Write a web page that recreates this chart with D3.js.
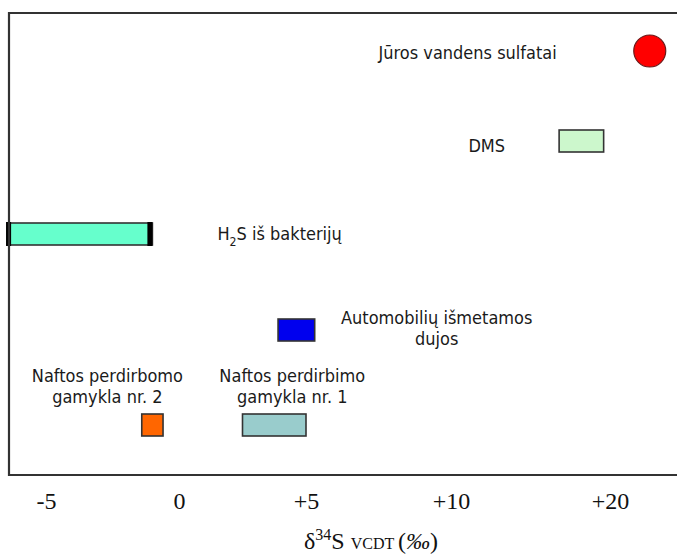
<!DOCTYPE html>
<html>
<head>
<meta charset="utf-8">
<script src="https://cdn.jsdelivr.net/npm/d3@7"></script>
<style>
  body { margin: 0; background: #fff; }
</style>
</head>
<body>
<svg id="chart" width="677" height="555"></svg>
<script>
// tick values on the (non-uniform) delta34S axis
const tickValues = [-5, 0, 5, 10, 20];
const tickLabels = ["-5", "0", "+5", "+10", "+20"];

// sources, one row each (the two refineries share the bottom row)
const sources = ["Jūros vandens sulfatai", "DMS", "H2S iš bakterijų", "Automobilių išmetamos dujos",
                 "Naftos perdirbomo gamykla nr. 2", "Naftos perdirbimo gamykla nr. 1"];
const rows = [0, 1, 2, 3, 4, 4];
const lowValues = [22.5, 16.8, -6.5, 3.9, -1.4, 2.5];
const highValues = [22.5, 19.6, -1.0, 5.3, -0.6, 5.0];

// styles
const fills = ["#ff0000", "#ccf7cc", "#66ffcc", "#0000ee", "#ff6600", "#99cccc"];
const labelLines = [
  ["Jūros vandens sulfatai"],
  ["DMS"],
  ["H2S iš bakterijų"],
  ["Automobilių išmetamos", "dujos"],
  ["Naftos perdirbomo", "gamykla nr. 2"],
  ["Naftos perdirbimo", "gamykla nr. 1"]
];
// label placement relative to the mark: which edge, text anchor, offset of first line
const labelPlace = [
  { side: "left", anchor: "end", dx: -93, dy: 8 },
  { side: "left", anchor: "end", dx: -54, dy: 11 },
  { side: "right", anchor: "start", dx: 65, dy: 6 },
  { side: "right", anchor: "middle", dx: 122, dy: -6 },
  { side: "mid", anchor: "middle", dx: -45, dy: -43 },
  { side: "mid", anchor: "middle", dx: 18, dy: -43 }
];

const svg = d3.select("#chart");
const frame = { left: 9, top: 13, bottom: 475, right: 677 };
const sansFont = "'DejaVu Sans', Verdana, sans-serif";
const serifFont = "'Liberation Serif', 'Times New Roman', serif";

const x = d3.scaleLinear()
  .domain(tickValues)
  .range([46, 179, 306, 451, 610]);

const y = d3.scaleLinear()
  .domain(d3.range(5))
  .range([51, 141, 234, 330, 425]);

const barH = 22;
const data = sources.map((s, i) => ({
  name: s, row: rows[i], lo: lowValues[i], hi: highValues[i], fill: fills[i],
  lines: labelLines[i], place: labelPlace[i]
}));

svg.append("clipPath").attr("id", "plotclip")
  .append("rect")
  .attr("x", frame.left - 3).attr("y", frame.top)
  .attr("width", frame.right - frame.left + 3).attr("height", frame.bottom - frame.top);

const g = svg.append("g").attr("clip-path", "url(#plotclip)");

// range bars
g.selectAll("rect.bar")
  .data(data.filter(d => d.lo !== d.hi))
  .enter()
  .append("rect")
  .attr("class", "bar")
  .attr("x", d => x(d.lo))
  .attr("y", d => y(d.row) - barH / 2)
  .attr("width", d => x(d.hi) - x(d.lo))
  .attr("height", barH)
  .attr("fill", d => d.fill)
  .attr("stroke", "#333")
  .attr("stroke-width", 1.6);

// thick black end caps on the bacterial H2S range
const h2s = data[2];
g.selectAll("rect.cap")
  .data([h2s.lo, h2s.hi])
  .enter()
  .append("rect")
  .attr("class", "cap")
  .attr("x", (v, i) => i === 0 ? x(v) : x(v) - 5)
  .attr("y", y(h2s.row) - barH / 2 - 1)
  .attr("width", 5)
  .attr("height", barH + 2)
  .attr("fill", "#000");

// single-value points
g.selectAll("circle.pt")
  .data(data.filter(d => d.lo === d.hi))
  .enter()
  .append("circle")
  .attr("class", "pt")
  .attr("cx", d => x(d.lo))
  .attr("cy", d => y(d.row))
  .attr("r", 16)
  .attr("fill", d => d.fill)
  .attr("stroke", "#6b1a1a")
  .attr("stroke-width", 1.2);

// labels (glyphs in the original are a little taller than DejaVu)
const labels = svg.append("g")
  .selectAll("text.lbl")
  .data(data)
  .enter()
  .append("text")
  .attr("class", "lbl")
  .style("font-family", sansFont)
  .attr("font-size", 16.2)
  .attr("fill", "#1a1a1a")
  .attr("text-anchor", d => d.place.anchor)
  .attr("transform", d => {
    const ref = d.place.side === "left" ? x(d.lo) : d.place.side === "right" ? x(d.hi) : (x(d.lo) + x(d.hi)) / 2;
    return `translate(${ref + d.place.dx},${y(d.row) + d.place.dy}) scale(1,1.12)`;
  });

labels.each(function(d) {
  const t = d3.select(this);
  d.lines.forEach((line, k) => {
    const ts = t.append("tspan").attr("x", 0).attr("dy", k === 0 ? 0 : 18.5);
    if (line.startsWith("H2S")) {
      ts.text("H");
      t.append("tspan").attr("dy", 5).attr("font-size", 11).text("2");
      t.append("tspan").attr("dy", -5).text("S" + line.slice(3));
    } else {
      ts.text(line);
    }
  });
});

// frame: left, top, bottom (open at the right)
svg.append("path")
  .attr("d", `M${frame.right},${frame.top}H${frame.left}V${frame.bottom}H${frame.right}`)
  .attr("fill", "none")
  .attr("stroke", "#333")
  .attr("stroke-width", 2.2);

// axis tick labels
const axis = d3.axisBottom(x)
  .tickValues(tickValues)
  .tickFormat((v, i) => tickLabels[i])
  .tickSize(0)
  .tickPadding(17);

const ax = svg.append("g")
  .attr("transform", `translate(0,${frame.bottom})`)
  .call(axis);
ax.select(".domain").remove();
ax.selectAll("text")
  .style("font-family", serifFont)
  .attr("font-size", 24)
  .attr("fill", "#111");

// axis title
const title = svg.append("text")
  .attr("x", 371)
  .attr("y", 549)
  .attr("text-anchor", "middle")
  .style("font-family", serifFont)
  .attr("font-size", 24)
  .attr("fill", "#111");
title.append("tspan").text("δ");
title.append("tspan").attr("dy", -9).attr("font-size", 16).text("34");
title.append("tspan").attr("dy", 9).text("S ");
title.append("tspan").attr("font-size", 16).text("VCDT ");
title.append("tspan").text("(");
title.append("tspan").attr("font-style", "italic").text("‰");
title.append("tspan").text(")");
</script>
</body>
</html>
